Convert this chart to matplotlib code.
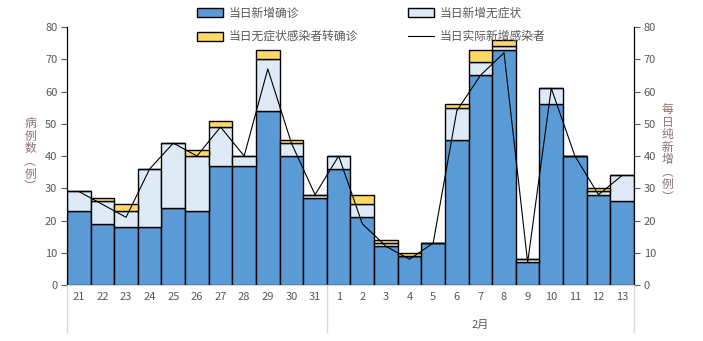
import matplotlib.pyplot as plt
import numpy as np
from matplotlib.patches import Patch
from matplotlib.lines import Line2D
from matplotlib.transforms import blended_transform_factory

plt.rcParams['font.family'] = ['Noto Sans CJK SC', 'DejaVu Sans']

# daily figures, Jan 21 .. Feb 13
days = ['21', '22', '23', '24', '25', '26', '27', '28', '29', '30', '31',
        '1', '2', '3', '4', '5', '6', '7', '8', '9', '10', '11', '12', '13']
confirmed = [23, 19, 18, 18, 24, 23, 37, 37, 54, 40, 27,
             36, 21, 12, 9, 13, 45, 65, 73, 7, 56, 40, 28, 26]
asymptomatic = [6, 7, 5, 18, 20, 17, 12, 3, 16, 4, 1,
                4, 4, 1, 0, 0, 10, 4, 1, 1, 5, 0, 1, 8]
asym_to_confirmed = [0, 1, 2, 0, 0, 2, 2, 0, 3, 1, 0,
                     0, 3, 1, 1, 0, 1, 4, 2, 0, 0, 0, 1, 0]
actual_new = [29, 25, 21, 36, 44, 40, 49, 40, 67, 44, 28,
              40, 19, 12, 8, 13, 54, 65, 72, 7, 61, 40, 28, 34]
month_groups = [('', 0, 11), ('2月', 11, 24)]

c_blue = '#5B9BD5'
c_light = '#DEEBF7'
c_yellow = '#FFD966'
txt = '#595959'
lab = '#8B7272'

fig = plt.figure(figsize=(7.03, 3.41), dpi=100)
ax = fig.add_axes([0.0953, 0.1642, 0.8065, 0.7566])
ax2 = ax.twinx()

x = np.arange(len(days))
conf = np.array(confirmed)
asym = np.array(asymptomatic)
a2c = np.array(asym_to_confirmed)

bar_kw = dict(width=1.0, edgecolor='black', linewidth=1.0)
ax.bar(x, conf, color=c_blue, **bar_kw)
ax.bar(x, asym, bottom=conf, color=c_light, **bar_kw)
ax.bar(x, a2c, bottom=conf + asym, color=c_yellow, **bar_kw)

ax2.plot(x, actual_new, color='black', linewidth=0.8)

for a in (ax, ax2):
    a.set_ylim(0, 80)
    a.set_xlim(-0.5, len(days) - 0.5)
    a.set_yticks(np.arange(0, 81, 10))
    a.spines['top'].set_visible(False)
    a.spines['bottom'].set_color('#D9D9D9')
    a.tick_params(axis='y', colors=txt, labelsize=8, length=4, width=0.8,
                  direction='out')
for side in ('left', 'right'):
    ax2.spines[side].set_color('black')
    ax.spines[side].set_color('black')

ax.set_xticks(x)
ax.set_xticklabels(days)
ax.tick_params(axis='x', length=0, colors=txt, labelsize=8, pad=5)
ax.yaxis.set_tick_params(pad=3)
ax2.yaxis.set_tick_params(pad=3)

# two-level category axis: month names and separators
tr = blended_transform_factory(ax.transData, ax.transAxes)
edges = sorted({g[1] for g in month_groups} | {g[2] for g in month_groups})
for e in edges:
    ax.plot([e - 0.5, e - 0.5], [0, -0.183], transform=tr, color='#D9D9D9',
            linewidth=1.0, clip_on=False)
for name, s, e in month_groups:
    if name:
        ax.text((s + e - 1) / 2, -0.155, name, transform=tr, ha='center',
                va='center', fontsize=8, color=txt)

# vertical axis titles
fig.text(0.0427, 0.545, '病\n例\n数\n︵\n例\n︶', ha='center', va='center',
         fontsize=8.5, color=lab, linespacing=0.95)
fig.text(0.950, 0.55, '每\n日\n纯\n新\n增\n︵\n例\n︶', ha='center', va='center',
         fontsize=8.5, color=lab, linespacing=0.95)

handles = [Patch(facecolor=c_blue, edgecolor='black', linewidth=1.0),
           Patch(facecolor=c_yellow, edgecolor='black', linewidth=1.0),
           Patch(facecolor=c_light, edgecolor='black', linewidth=1.0),
           Line2D([], [], color='black', linewidth=0.8)]
labels = ['当日新增确诊', '当日无症状感染者转确诊', '当日新增无症状', '当日实际新增感染者']
fig.legend(handles, labels, ncol=2, loc='upper left',
           bbox_to_anchor=(0.265, 1.012), frameon=False, fontsize=8.5,
           labelcolor=txt, handlelength=2.2, handleheight=0.8,
           handletextpad=0.5, columnspacing=4.2, labelspacing=0.9)

fig.savefig('out.png', dpi=100)
